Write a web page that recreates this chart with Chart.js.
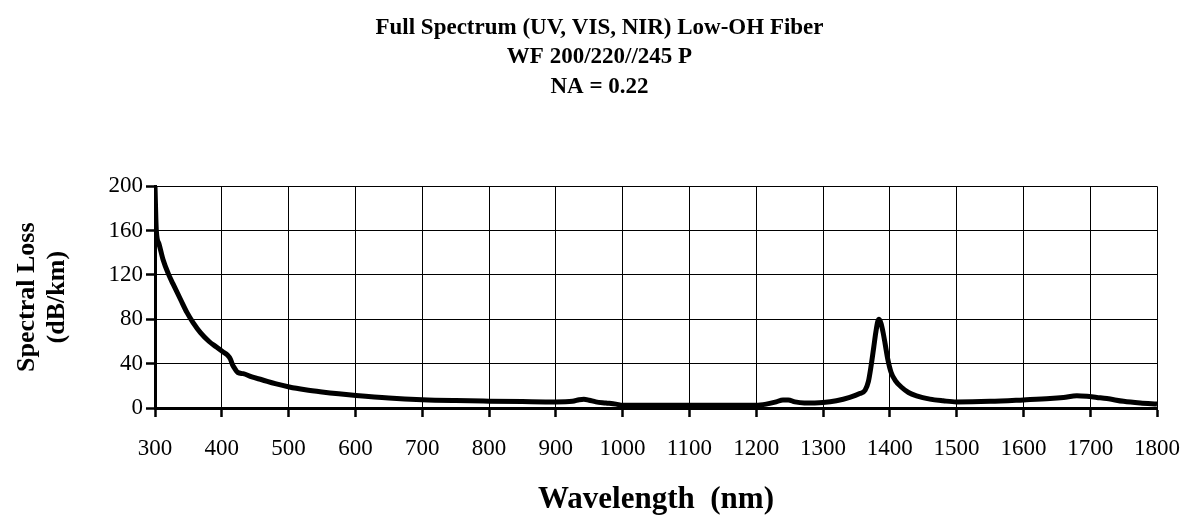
<!DOCTYPE html>
<html>
<head>
<meta charset="utf-8">
<script src="https://cdn.jsdelivr.net/npm/chart.js@4.4.1/dist/chart.umd.min.js"></script>
<style>
html,body{margin:0;padding:0;background:#fff;}
canvas{display:block;}
</style>
</head>
<body>
<canvas id="c" width="1199" height="515"></canvas>
<script>
const titleLines = ['Full Spectrum (UV, VIS, NIR) Low-OH Fiber', 'WF 200/220//245 P', 'NA = 0.22'];
const xTitle = 'Wavelength  (nm)';
const yTitle = ['Spectral Loss', '(dB/km)'];
const xTicks = [300,400,500,600,700,800,900,1000,1100,1200,1300,1400,1500,1600,1700,1800];
const yTicks = [0,40,80,120,160,200];

const wavelength = [300,302,306,312,320,327,339,348,357,368,381,392,401,408,413,416,419,424,432,445,460,480,501,525,550,575,601,650,700,750,800,850,900,925,935,942,950,960,975,990,1000,1050,1100,1150,1200,1215,1230,1240,1248,1258,1272,1300,1320,1340,1355,1363,1368,1372,1376,1379,1382,1384,1387,1390,1393,1397,1402,1408,1418,1428,1440,1460,1480,1500,1550,1600,1640,1660,1680,1695,1710,1725,1750,1775,1800];
const spectralLoss = [200,160,148,134,121,112,97,86,77,68,60,55,51,48,44,39,36,32,31,28,25.5,22,19,16.5,14.5,12.8,11.3,9,7.5,6.7,6.2,5.8,5.5,6,7.5,8,7,5.5,4.5,3.5,2.5,2.5,2.5,2.5,2.5,3.5,5.5,7.3,7.3,5.5,4.5,5,6.5,9.5,13,16,24,38,55,68,78,80,76,68,58,44,32,25,18.5,14,11,8,6.5,5.5,6,7.3,8.5,9.5,11,10.5,9.5,8.5,6,4.5,3.5];

const FONT = '"Liberation Serif", "Times New Roman", serif';
const points = wavelength.map((w, i) => ({x: w, y: spectralLoss[i]}));

const whiteBg = {
  id: 'whiteBg',
  beforeDraw(chart) {
    const ctx = chart.ctx;
    ctx.save();
    ctx.fillStyle = '#fff';
    ctx.fillRect(0, 0, chart.width, chart.height);
    ctx.restore();
  }
};

new Chart(document.getElementById('c'), {
  type: 'line',
  data: {
    datasets: [{
      data: points,
      borderColor: '#000',
      borderWidth: 5,
      pointRadius: 0,
      fill: false,
      cubicInterpolationMode: 'monotone'
    }]
  },
  options: {
    responsive: false,
    animation: false,
    events: [],
    layout: {padding: {left: 0, right: 0, top: 0, bottom: 0}},
    plugins: {
      legend: {display: false},
      tooltip: {enabled: false},
      title: {
        display: true,
        text: titleLines,
        color: '#000',
        font: {family: FONT, size: 23, weight: 'bold', lineHeight: 1.28},
        padding: {top: 13, bottom: 85}
      }
    },
    scales: {
      x: {
        type: 'linear',
        min: 300, max: 1800,
        afterBuildTicks(scale) { scale.ticks = xTicks.map(v => ({value: v})); },
        afterFit(scale) { scale.height = 107; scale.paddingLeft = 0; scale.paddingRight = 42; },
        ticks: {
          color: '#000', font: {family: FONT, size: 23}, padding: 18,
          autoSkip: false, maxRotation: 0, minRotation: 0,
          callback: v => String(v)
        },
        grid: {color: '#000', lineWidth: 1, tickLength: 9, tickWidth: 2.5, tickColor: '#000'},
        border: {color: '#000', width: 3},
        title: {
          display: true, text: xTitle, color: '#000',
          font: {family: FONT, size: 31, weight: 'bold', lineHeight: 1.2},
          padding: {top: 0, bottom: -4}
        }
      },
      y: {
        min: 0, max: 200,
        afterBuildTicks(scale) { scale.ticks = yTicks.map(v => ({value: v})); },
        afterFit(scale) { scale.width = 155; },
        ticks: {color: '#000', font: {family: FONT, size: 23}, padding: 3, callback: v => String(v)},
        grid: {color: '#000', lineWidth: 1, tickLength: 9, tickWidth: 2.5, tickColor: '#000'},
        border: {color: '#000', width: 3},
        title: {
          display: true, text: yTitle, color: '#000',
          font: {family: FONT, size: 26, weight: 'bold', lineHeight: 1.15},
          padding: {top: 12, bottom: 0}
        }
      }
    }
  },
  plugins: [whiteBg]
});
</script>
</body>
</html>
